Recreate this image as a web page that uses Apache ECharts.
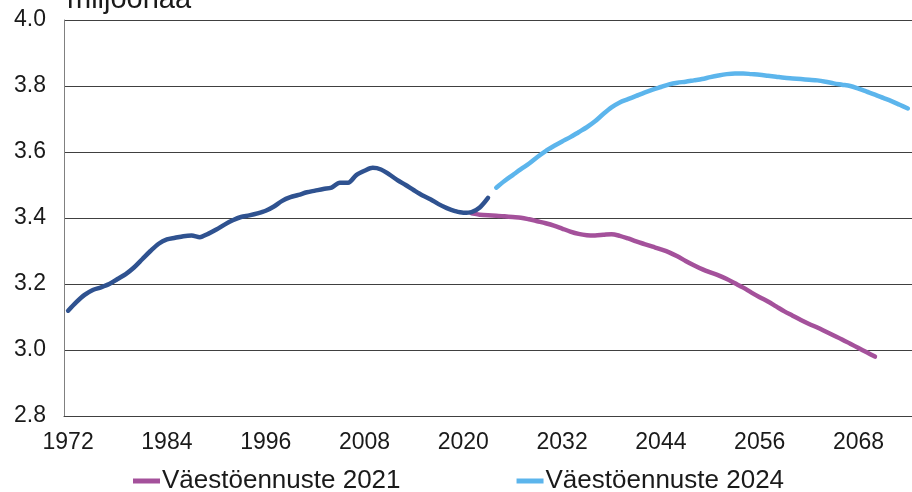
<!DOCTYPE html>
<html>
<head>
<meta charset="utf-8">
<script src="https://cdn.jsdelivr.net/npm/echarts@6/dist/echarts.min.js"></script>
<style>
  html, body { margin: 0; padding: 0; background: #fff; }
  #chart { width: 912px; height: 492px; }
</style>
</head>
<body>
<div id="chart"></div>
<script>
// vuodet 1972..2074
var firstYear = 1972;
var lastYear = 2074;

// toteutunut 1972-2023 (miljoonaa)
var historical = [
  3.119, 3.145, 3.167, 3.182, 3.190, 3.200, 3.215, 3.230, 3.250, 3.275,
  3.300, 3.322, 3.335, 3.340, 3.345, 3.347, 3.342, 3.352, 3.365, 3.380,
  3.393, 3.403, 3.408, 3.414, 3.422, 3.435, 3.452, 3.463, 3.470, 3.478,
  3.483, 3.488, 3.492, 3.507, 3.507, 3.530, 3.543, 3.552, 3.547, 3.532,
  3.515, 3.500, 3.484, 3.469, 3.457, 3.442, 3.430, 3.421, 3.416, 3.418,
  3.432, 3.461
];

// Väestöennuste 2021, vuodet 2021-2070
var forecast2021Start = 2021;
var forecast2021 = [
  3.414, 3.410, 3.408, 3.407, 3.405, 3.403, 3.401, 3.396, 3.390, 3.384,
  3.377, 3.368, 3.359, 3.352, 3.348, 3.347, 3.349, 3.351, 3.346, 3.338,
  3.329, 3.321, 3.313, 3.305, 3.296, 3.284, 3.270, 3.257, 3.245, 3.235,
  3.226, 3.215, 3.202, 3.189, 3.174, 3.160, 3.147, 3.132, 3.117, 3.104,
  3.091, 3.079, 3.068, 3.056, 3.044, 3.032, 3.019, 3.006, 2.993, 2.980
];

// Väestöennuste 2024, vuodet 2024-2074
var forecast2024Start = 2024;
var forecast2024 = [
  3.492, 3.512, 3.530, 3.548, 3.565, 3.585, 3.603, 3.618, 3.632, 3.645,
  3.660, 3.675, 3.693, 3.715, 3.735, 3.750, 3.760, 3.770, 3.780, 3.789,
  3.797, 3.805, 3.810, 3.813, 3.817, 3.821, 3.827, 3.832, 3.836, 3.838,
  3.838, 3.836, 3.834, 3.831, 3.828, 3.825, 3.823, 3.821, 3.819, 3.817,
  3.813, 3.808, 3.804, 3.800, 3.792, 3.783, 3.774, 3.764, 3.754, 3.743,
  3.732
];

var yTicks = [2.8, 3.0, 3.2, 3.4, 3.6, 3.8, 4.0];

var years = [];
for (var y = firstYear; y <= lastYear; y++) years.push(String(y));

function place(values, startYear) {
  var out = [];
  for (var i = 0; i < years.length; i++) {
    var idx = firstYear + i - startYear;
    out.push(idx >= 0 && idx < values.length ? values[idx] : null);
  }
  return out;
}

var font = 'Liberation Sans, Arial, sans-serif';
var myChart = echarts.init(document.getElementById('chart'));

var option = {
  animation: false,
  title: {
    text: 'miljoonaa',
    left: 62,
    top: -20,
    textStyle: { fontFamily: font, fontSize: 29, fontWeight: 'normal', color: '#1a1a1a' }
  },
  legend: {
    bottom: -7,
    left: 128,
    itemWidth: 27,
    itemHeight: 5,
    itemGap: 116,
    icon: 'rect',
    data: ['Väestöennuste 2021', 'Väestöennuste 2024'],
    textStyle: { fontFamily: font, fontSize: 26, color: '#1a1a1a', padding: [0, 0, 0, -3] }
  },
  grid: {
    left: 64,
    right: -2,
    top: 20,
    bottom: 76
  },
  xAxis: {
    type: 'category',
    data: years,
    boundaryGap: true,
    axisLine: { show: true, lineStyle: { color: '#404040', width: 1 } },
    axisTick: { show: false },
    axisLabel: {
      interval: 11,
      margin: 15,
      fontFamily: font,
      fontSize: 23,
      color: '#1a1a1a'
    },
    splitLine: { show: false }
  },
  yAxis: {
    type: 'value',
    min: yTicks[0],
    max: yTicks[yTicks.length - 1],
    interval: 0.2,
    axisLine: { show: true, lineStyle: { color: '#808080', width: 1 } },
    axisTick: { show: false },
    axisLabel: {
      margin: 18,
      fontFamily: font,
      fontSize: 23,
      color: '#1a1a1a',
      formatter: function (v) { return v.toFixed(1); }
    },
    splitLine: { show: true, lineStyle: { color: '#404040', width: 1 } }
  },
  series: [
    {
      name: 'Toteutunut',
      type: 'line',
      data: place(historical, firstYear),
      showSymbol: false,
      smooth: 0.3,
      lineStyle: { color: '#2F5290', width: 4.5, cap: 'round' },
      itemStyle: { color: '#2F5290' },
      z: 3
    },
    {
      name: 'Väestöennuste 2021',
      type: 'line',
      data: place(forecast2021, forecast2021Start),
      showSymbol: false,
      smooth: 0.3,
      lineStyle: { color: '#A4519B', width: 4.5, cap: 'round' },
      itemStyle: { color: '#A4519B' },
      z: 2
    },
    {
      name: 'Väestöennuste 2024',
      type: 'line',
      data: place(forecast2024, forecast2024Start),
      showSymbol: false,
      smooth: 0.3,
      lineStyle: { color: '#5CB5EC', width: 4.5, cap: 'round' },
      itemStyle: { color: '#5CB5EC' },
      z: 2
    }
  ]
};
myChart.setOption(option);
</script>
</body>
</html>
